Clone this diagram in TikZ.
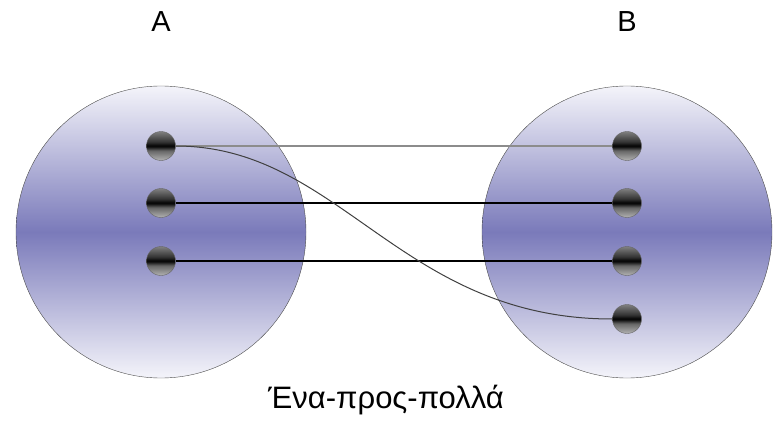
\documentclass[tikz,border=0pt]{standalone}
\usepackage{fontspec}
\setmainfont{Liberation Sans}
\usetikzlibrary{shapes.geometric}
\definecolor{setmid}{HTML}{7A7ABA}
\definecolor{settop}{HTML}{F4F4FA}
\pgfdeclareverticalshading{ballshade}{100bp}{%
  color(0bp)=(black!30); color(25bp)=(black!30); color(42bp)=(black!60);
  color(50bp)=(black); color(57bp)=(black!80); color(75bp)=(black!50);
  color(100bp)=(black!50)}
\tikzset{
  set/.style={draw=black!70, thin, shape=ellipse, minimum width=290pt,
    minimum height=292pt, top color=settop, bottom color=settop, middle color=setmid},
  ball/.style={draw=black!60, thin, shape=circle, inner sep=0pt,
    minimum size=29pt, shading=ballshade},
  title/.style={font=\fontsize{29}{31}\selectfont},
  capt/.style={font=\fontsize{31}{33}\selectfont}
}
\begin{document}
\begin{tikzpicture}[x=1pt, y=-1pt]
\useasboundingbox (0,0) rectangle (773,425);
\node (setA) [set] at (161,232) {};
\node (setB) [set] at (627,232) {};
\node (labA) [title] at (161,22) {A};
\node (labB) [title] at (627,22) {B};
\node (a1) [ball] at (161,146) {};
\node (a2) [ball] at (161,203) {};
\node (a3) [ball] at (161,261) {};
\node (b1) [ball] at (627,146) {};
\node (b2) [ball] at (627,203) {};
\node (b3) [ball] at (627,261) {};
\node (b4) [ball] at (627,319) {};
\node (caption) [capt] at (386,400) {Ένα-προς-πολλά};
\draw[black!45, line width=1.3pt] (a1) -- (b1);
\draw[black, line width=1.3pt] (a2) -- (b2);
\draw[black, line width=1.3pt] (a3) -- (b3);
\draw[black!75, line width=1pt] (a1.east) .. controls (340,146) and (400,319) .. (b4.west);
\end{tikzpicture}
\end{document}
